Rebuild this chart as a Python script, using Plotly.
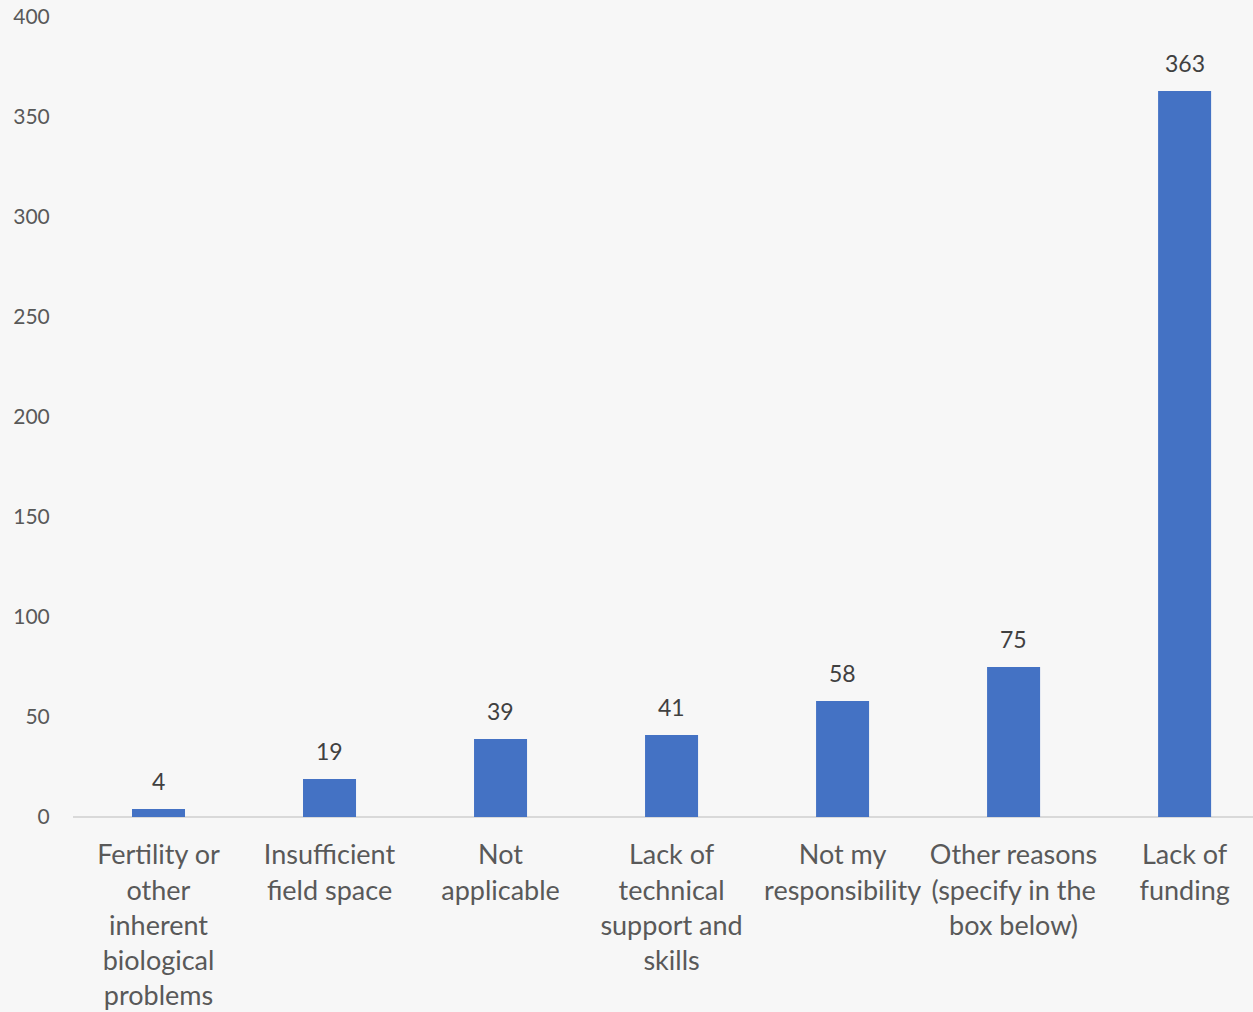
import plotly.graph_objects as go

categories = [
    "Fertility or<br>other<br>inherent<br>biological<br>problems",
    "Insufficient<br>field space",
    "Not<br>applicable",
    "Lack of<br>technical<br>support and<br>skills",
    "Not my<br>responsibility",
    "Other reasons<br>(specify in the<br>box below)",
    "Lack of<br>funding",
]
values = [4, 19, 39, 41, 58, 75, 363]
y_ticks = [0, 50, 100, 150, 200, 250, 300, 350, 400]

FONT = "Lato"
fig = go.Figure()
fig.add_trace(go.Bar(
    x=categories, y=values,
    marker=dict(color="#4472C4", line=dict(width=0)),
    width=0.31,
))
for c, v in zip(categories, values):
    fig.add_annotation(x=c, y=v, text=str(v), showarrow=False, yanchor="bottom",
                       yshift=12, font=dict(family=FONT, size=23, color="#404040"))

fig.update_layout(
    width=1253, height=1012,
    margin=dict(l=73, r=0, t=17, b=195),
    paper_bgcolor="#F7F7F7", plot_bgcolor="#F7F7F7",
    showlegend=False,
    font=dict(family=FONT, color="#595959"),
)
fig.update_xaxes(
    range=[-0.5, 6.4], showgrid=False, zeroline=False,
    showline=False, ticks="outside", ticklen=14, tickcolor="rgba(0,0,0,0)",
    tickfont=dict(family=FONT, size=27, color="#595959"),
    tickangle=0,
)
fig.update_yaxes(
    range=[0, 400], tickvals=y_ticks, showgrid=False,
    zeroline=True, zerolinecolor="#D9D9D9", zerolinewidth=2,
    showline=False, ticks="outside", ticklen=18, tickcolor="rgba(0,0,0,0)",
    tickfont=dict(family=FONT, size=21, color="#595959"),
)
fig.write_html("out.html", config={"displayModeBar": False},
               post_script="document.body.style.margin='0';document.body.style.background='#F7F7F7';")
